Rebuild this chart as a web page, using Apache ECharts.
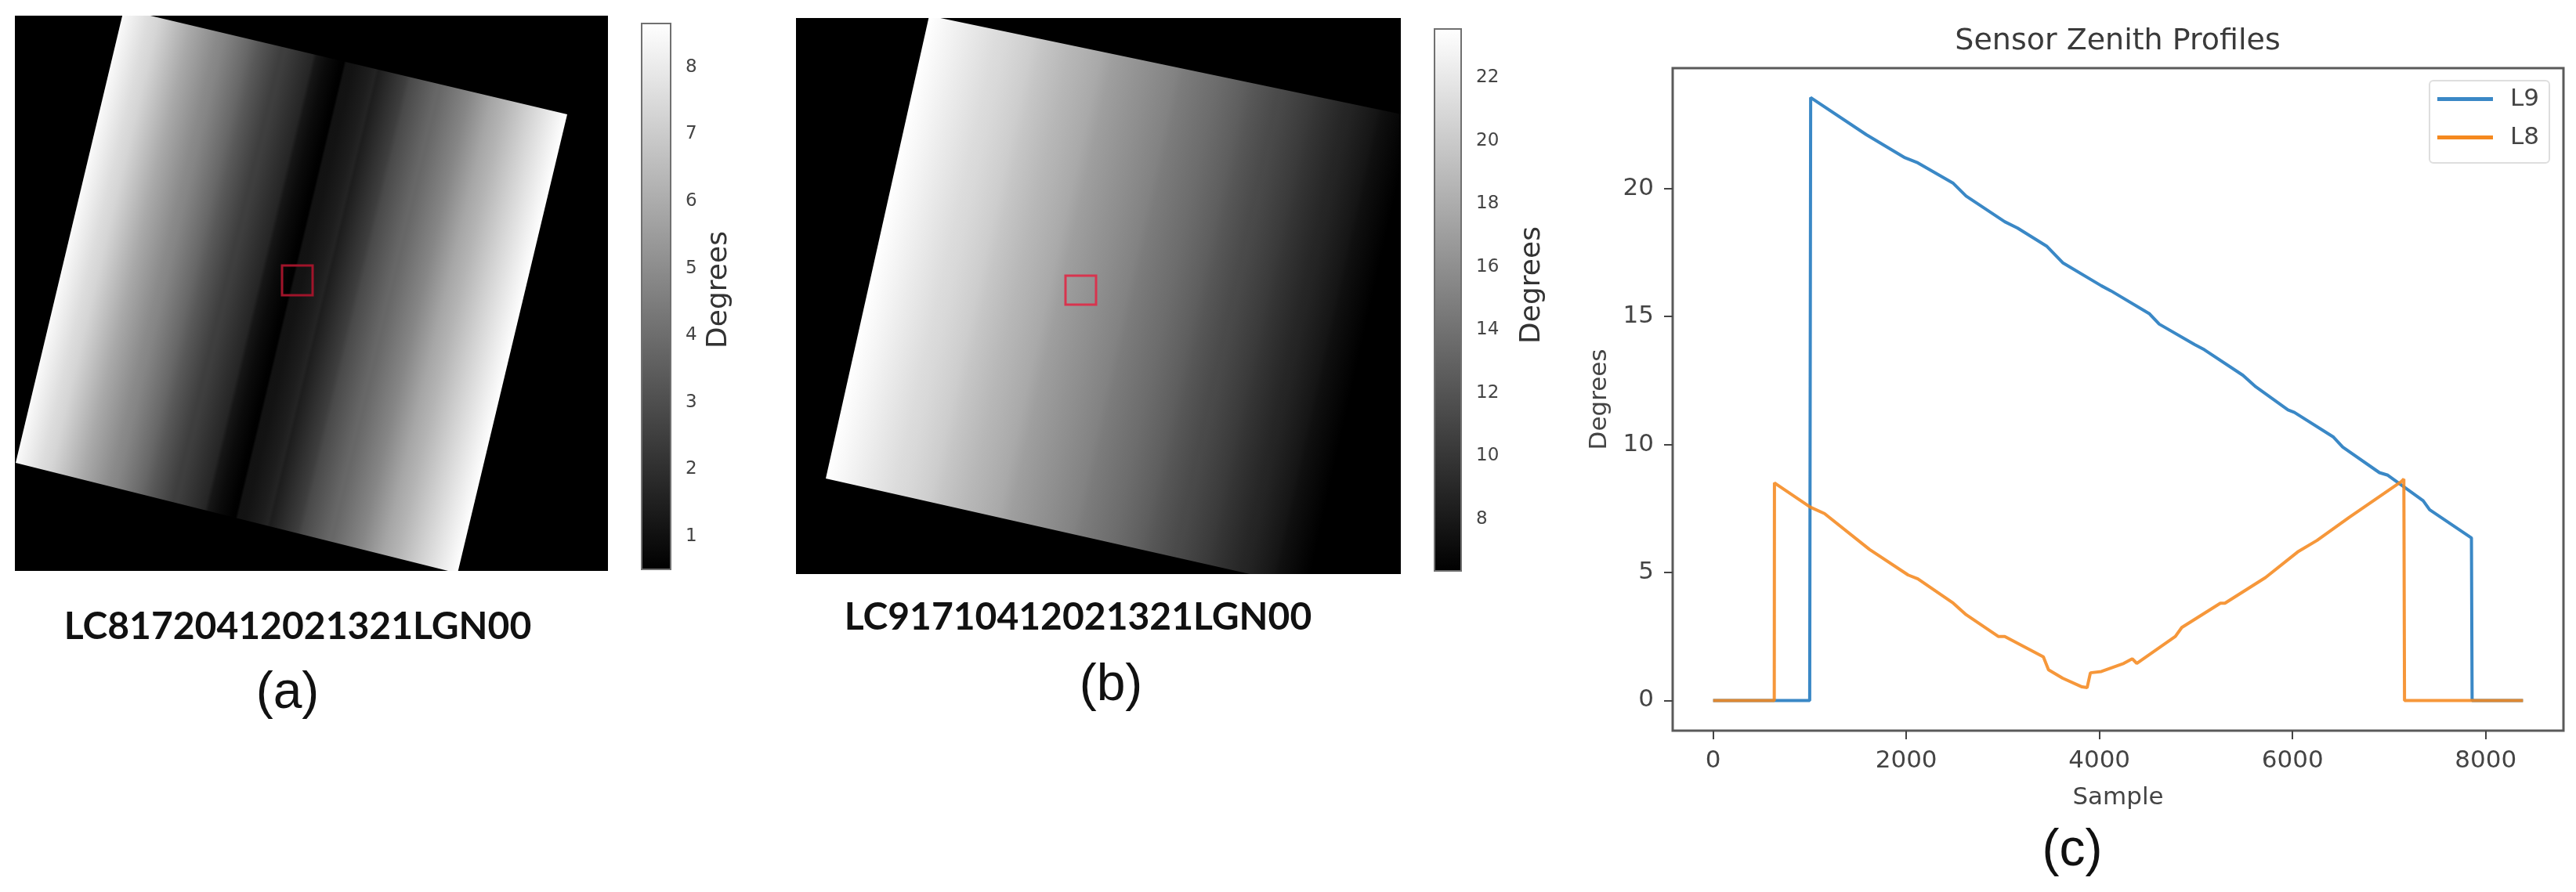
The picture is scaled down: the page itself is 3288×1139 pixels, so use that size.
<!DOCTYPE html>
<html>
<head>
<meta charset="utf-8">
<title>Sensor Zenith Profiles</title>
<script src="https://cdn.jsdelivr.net/npm/echarts@6/dist/echarts.min.js"></script>
<style>
  html, body { margin: 0; padding: 0; background: #fff; }
  #chart { width: 3288px; height: 1139px; }
</style>
</head>
<body>
<div id="chart"></div>
<script>
// profiles
const l9Samples = [0, 1000, 1010, 1587, 1987, 2120, 2487, 2620, 3020, 3153, 3453, 3620, 4020, 4120, 4520, 4620, 4987, 5087, 5487, 5620, 5953, 6020, 6420, 6520, 6900, 6987, 7353, 7420, 7853, 7860, 8387]
const l9Degrees = [0, 0, 23.55, 22.1, 21.2, 21.0, 20.2, 19.7, 18.7, 18.45, 17.75, 17.1, 16.2, 16.0, 15.1, 14.7, 13.9, 13.7, 12.7, 12.25, 11.35, 11.25, 10.3, 9.9, 8.9, 8.8, 7.8, 7.45, 6.35, 0, 0]
const l8Samples = [0, 633, 635, 1007, 1153, 1620, 2020, 2120, 2487, 2620, 2953, 3020, 3420, 3473, 3620, 3820, 3873, 3907, 4020, 4253, 4340, 4387, 4787, 4853, 5253, 5300, 5720, 6053, 6253, 6587, 7127, 7153, 7160, 8387]
const l8Degrees = [0, 0, 8.5, 7.55, 7.3, 5.9, 4.9, 4.75, 3.8, 3.35, 2.5, 2.5, 1.7, 1.2, 0.87, 0.53, 0.5, 1.08, 1.13, 1.45, 1.63, 1.45, 2.5, 2.85, 3.8, 3.8, 4.8, 5.8, 6.25, 7.15, 8.55, 8.65, 0, 0]

const sampleTicks = [0, 2000, 4000, 6000, 8000]
const degreeTicks = [0, 5, 10, 15, 20]
const barTicksA = [1, 2, 3, 4, 5, 6, 7, 8]
const barTicksB = [8, 10, 12, 14, 16, 18, 20, 22]
const barRangeA = [0.51, 8.65]
const barRangeB = [6.36, 23.54]

// swath corners in image pixels: top-left, top-right, bottom-right, bottom-left
const swathAX = [139, 705, 565, 1]
const swathAY = [-8, 126, 712, 571]
const swathBX = [170, 787, 655, 38]
const swathBY = [-3, 126, 727, 588]
// red study boxes, image pixels: x0, x1, y0, y1
const boxA = [341, 380, 319, 357]
const boxB = [344, 383, 329, 366]

const textColor = '#444'
const sans = '"DejaVu Sans", sans-serif'

function pairs(xs, ys) {
  return xs.map((x, i) => [x, ys[i]])
}

function gray(v, range) {
  let g = Math.round(255 * (v - range[0]) / (range[1] - range[0]))
  g = Math.max(0, Math.min(255, g))
  return `rgb(${g},${g},${g})`
}

// gradient stops across the swath, taken from the lit part of a profile
function swathStops(samples, degrees, range) {
  const lit = pairs(samples, degrees).filter(p => p[1] > 0)
  const first = lit[0][0]
  const last = lit[lit.length - 1][0]
  return lit.map(p => ({ offset: (p[0] - first) / (last - first), color: gray(p[1], range) }))
}

function swathSeries(idx, xs, ys, stops) {
  return {
    type: 'custom',
    xAxisIndex: idx,
    yAxisIndex: idx,
    clip: true,
    silent: true,
    data: [0],
    renderItem: (params, api) => {
      const pts = xs.map((x, i) => api.coord([x, ys[i]]))
      // gradient runs square to the swath's long edge
      const ex = pts[0][0] - pts[3][0]
      const ey = pts[0][1] - pts[3][1]
      const len = Math.hypot(ex, ey)
      const nx = -ey / len
      const ny = ex / len
      const wx = pts[1][0] - pts[0][0]
      const wy = pts[1][1] - pts[0][1]
      const w = wx * nx + wy * ny
      const fill = new echarts.graphic.LinearGradient(
        pts[0][0], pts[0][1], pts[0][0] + nx * w, pts[0][1] + ny * w, stops, true)
      return { type: 'polygon', shape: { points: pts }, style: { fill: fill } }
    }
  }
}

function boxSeries(idx, box, color) {
  return {
    type: 'custom',
    xAxisIndex: idx,
    yAxisIndex: idx,
    silent: true,
    data: [0],
    renderItem: (params, api) => {
      const a = api.coord([box[0], box[2]])
      const b = api.coord([box[1], box[3]])
      return {
        type: 'rect',
        shape: { x: a[0], y: a[1], width: b[0] - a[0], height: b[1] - a[1] },
        style: { fill: null, stroke: color, lineWidth: 3 }
      }
    }
  }
}

function barSeries(idx, range) {
  return {
    type: 'custom',
    xAxisIndex: idx,
    yAxisIndex: idx,
    silent: true,
    data: [0],
    renderItem: (params, api) => {
      const a = api.coord([0, range[1]])
      const b = api.coord([1, range[0]])
      return {
        type: 'rect',
        shape: { x: a[0], y: a[1], width: b[0] - a[0], height: b[1] - a[1] },
        style: {
          stroke: '#707070',
          lineWidth: 2,
          fill: new echarts.graphic.LinearGradient(0, 0, 0, 1, [
            { offset: 0, color: '#fff' },
            { offset: 1, color: '#000' }
          ])
        }
      }
    }
  }
}

function imageAxes(idx, w, h) {
  const hidden = { axisLine: { show: false }, axisTick: { show: false }, axisLabel: { show: false }, splitLine: { show: false } }
  return {
    x: Object.assign({ gridIndex: idx, type: 'value', min: 0, max: w }, hidden),
    y: Object.assign({ gridIndex: idx, type: 'value', min: 0, max: h, inverse: true }, hidden)
  }
}

function barAxes(idx, range, ticks) {
  return {
    x: { gridIndex: idx, type: 'value', min: 0, max: 1, axisLine: { show: false }, axisTick: { show: false }, axisLabel: { show: false }, splitLine: { show: false } },
    y: {
      gridIndex: idx,
      type: 'value',
      position: 'right',
      min: range[0],
      max: range[1],
      splitLine: { show: false },
      axisLine: { show: false },
      axisTick: { show: true, length: 10, customValues: ticks, lineStyle: { color: '#555', width: 2 } },
      axisLabel: { show: true, customValues: ticks, margin: 19, fontSize: 23, fontFamily: sans, color: textColor }
    }
  }
}

const imgA = imageAxes(0, 757, 709)
const imgB = imageAxes(2, 772, 710)
const barA = barAxes(1, barRangeA, barTicksA)
const barB = barAxes(3, barRangeB, barTicksB)

function rotatedLabel(x, y, text, size) {
  return {
    type: 'text',
    x: x,
    y: y,
    rotation: Math.PI / 2,
    style: { text: text, fontSize: size, fontFamily: sans, fill: '#333', textAlign: 'center', textVerticalAlign: 'middle' }
  }
}

function caption(x, y, text, size, weight, family, color) {
  return {
    type: 'text',
    x: x,
    y: y,
    style: { text: text, fontSize: size, fontWeight: weight, fontFamily: family, fill: color, textAlign: 'center', textVerticalAlign: 'middle' }
  }
}

const capFont = '"Liberation Sans", sans-serif'
const codeFont = 'Lato, sans-serif'

let myChart = echarts.init(document.getElementById('chart'))
myChart.setOption({
  animation: false,
  backgroundColor: '#fff',
  grid: [
    { left: 19, top: 20, width: 757, height: 709, show: true, backgroundColor: '#000', borderWidth: 0 },
    { left: 819, top: 30, width: 37, height: 697, show: false },
    { left: 1016, top: 23, width: 772, height: 710, show: true, backgroundColor: '#000', borderWidth: 0 },
    { left: 1831, top: 37, width: 34, height: 692, show: false },
    { left: 2135, top: 87, width: 1137, height: 846, show: true, backgroundColor: 'transparent', borderColor: '#5a5a5a', borderWidth: 3 }
  ],
  xAxis: [
    imgA.x, barA.x, imgB.x, barB.x,
    {
      gridIndex: 4,
      type: 'value',
      min: -419,
      max: 8806,
      name: 'Sample',
      nameLocation: 'middle',
      nameGap: 70,
      nameTextStyle: { fontSize: 31, fontFamily: sans, color: textColor },
      splitLine: { show: false },
      axisLine: { onZero: false, show: false },
      axisTick: { show: true, length: 11, customValues: sampleTicks, lineStyle: { color: '#444', width: 2 } },
      axisLabel: { customValues: sampleTicks, formatter: v => String(v), margin: 23, fontSize: 31, fontFamily: sans, color: textColor }
    }
  ],
  yAxis: [
    imgA.y, barA.y, imgB.y, barB.y,
    {
      gridIndex: 4,
      type: 'value',
      min: -1.18,
      max: 24.7,
      name: 'Degrees',
      nameLocation: 'middle',
      nameGap: 78,
      nameTextStyle: { fontSize: 31, fontFamily: sans, color: textColor },
      splitLine: { show: false },
      axisLine: { onZero: false, show: false },
      axisTick: { show: true, length: 11, customValues: degreeTicks, lineStyle: { color: '#444', width: 2 } },
      axisLabel: { customValues: degreeTicks, formatter: v => String(v), margin: 24, fontSize: 31, fontFamily: sans, color: textColor }
    }
  ],
  legend: {
    data: ['L9', 'L8'],
    left: 3101,
    top: 103,
    orient: 'vertical',
    align: 'left',
    icon: 'rect',
    itemWidth: 71,
    itemHeight: 5,
    itemGap: 18,
    padding: [8, 13, 17, 10],
    backgroundColor: '#fff',
    borderColor: '#dedede',
    borderWidth: 2,
    borderRadius: 5,
    textStyle: { fontSize: 31, fontFamily: sans, color: textColor, padding: [0, 0, 0, 17] }
  },
  graphic: [
    rotatedLabel(918, 370, 'Degrees', 36),
    rotatedLabel(1956, 364, 'Degrees', 36),
    caption(2703, 53, 'Sensor Zenith Profiles', 38, 'normal', sans, '#3a3a3a'),
    caption(380, 801, 'LC81720412021321LGN00', 48, 'bold', codeFont, '#111'),
    caption(1376, 789, 'LC91710412021321LGN00', 48, 'bold', codeFont, '#111'),
    caption(367, 886, '(a)', 66, 'normal', capFont, '#111'),
    caption(1418, 876, '(b)', 66, 'normal', capFont, '#111'),
    caption(2645, 1087, '(c)', 66, 'normal', capFont, '#111')
  ],
  series: [
    swathSeries(0, swathAX, swathAY, swathStops(l8Samples, l8Degrees, barRangeA)),
    boxSeries(0, boxA, '#a0142a'),
    barSeries(1, barRangeA),
    swathSeries(2, swathBX, swathBY, swathStops(l9Samples, l9Degrees, barRangeB)),
    boxSeries(2, boxB, '#d8344e'),
    barSeries(3, barRangeB),
    {
      name: 'L9',
      type: 'line',
      xAxisIndex: 4,
      yAxisIndex: 4,
      symbol: 'none',
      itemStyle: { color: '#3a88c6' },
      lineStyle: { width: 4, color: '#3a88c6' },
      data: pairs(l9Samples, l9Degrees)
    },
    {
      name: 'L8',
      type: 'line',
      xAxisIndex: 4,
      yAxisIndex: 4,
      symbol: 'none',
      itemStyle: { color: '#f5891f' },
      lineStyle: { width: 4, color: '#f5891f', opacity: 0.88 },
      data: pairs(l8Samples, l8Degrees)
    }
  ]
})

window.addEventListener('resize', () => {
  myChart.resize()
})
</script>
</body>
</html>
